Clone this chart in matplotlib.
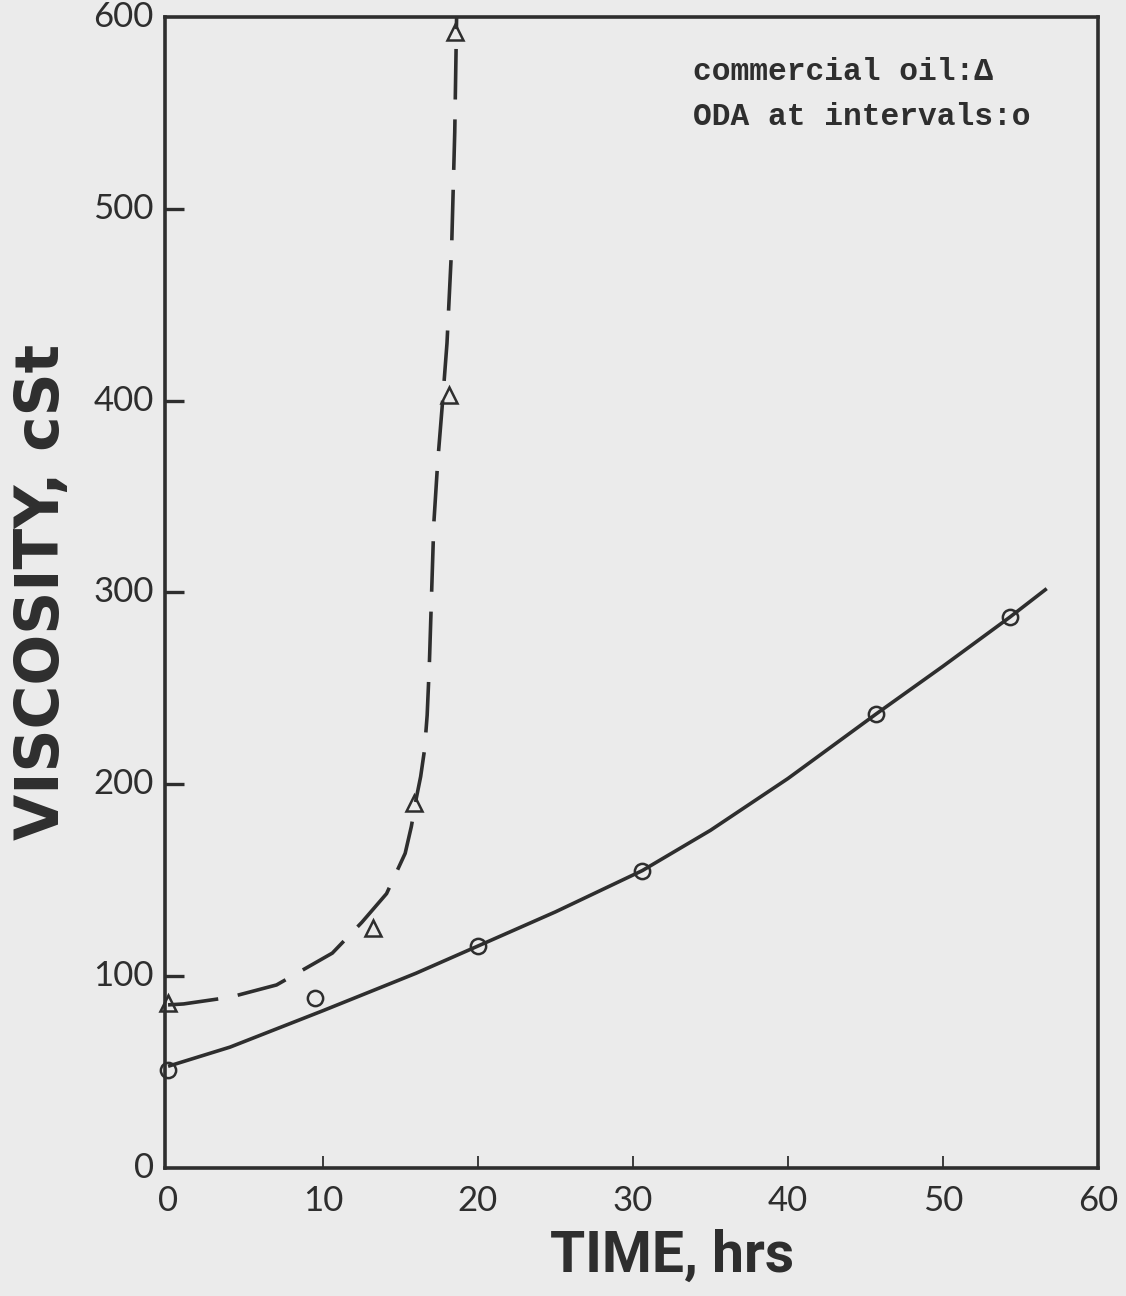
import matplotlib
matplotlib.use("Agg")
import matplotlib.pyplot as plt

# ODA dosed at intervals (circles) and the fitted solid curve
oda_t = [0, 9.5, 20.0, 30.6, 45.7, 54.3]
oda_visc = [51, 88.5, 115.7, 155, 236.7, 287]
oda_fit_t = [0, 4, 10, 16, 20, 25, 30.6, 35, 40, 45.7, 50, 54.3, 56.7]
oda_fit_visc = [53, 63, 82, 101.5, 115.7, 133.5, 155, 176, 203, 236.7, 261.5, 287, 302]

# commercial oil (triangles) and the dashed trend curve
com_t = [0, 13.2, 15.9, 18.1, 18.5]
com_visc = [86, 125, 190, 403, 592]
com_fit_t = [0, 1, 4, 7, 10.6, 12.5, 14.1, 15.3, 15.7, 16.0, 16.3, 16.55, 16.72,
             16.86, 17.0, 17.15, 17.4, 17.7, 18.0, 18.3, 18.5, 18.62]
com_fit_visc = [85, 85.5, 89, 95.4, 112, 128, 143, 164, 178, 192, 204, 218, 236,
                262, 298, 336, 368, 398, 430, 480, 540, 600]

xticks = [10, 20, 30, 40, 50]
xlabels_all = ["0", "10", "20", "30", "40", "50", "60"]
yticks = [0, 100, 200, 300, 400, 500, 600]

ink = "#2e2e2e"
paper = "#ebebeb"

fig = plt.figure(figsize=(11.26, 12.96), dpi=100, facecolor=paper)
ax = fig.add_axes([0.1465, 0.0988, 0.8285, 0.8881])
ax.set_facecolor(paper)

ax.plot(oda_fit_t, oda_fit_visc, color=ink, lw=2.6, solid_capstyle="butt", clip_on=False)
ax.plot(com_fit_t, com_fit_visc, color=ink, lw=2.6, dashes=(14, 5.5), clip_on=False)

ax.plot(oda_t, oda_visc, "o", ms=11, mfc="none", mec=ink, mew=1.8, clip_on=False, zorder=5)
ax.plot(com_t, com_visc, "^", ms=11, mfc="none", mec=ink, mew=1.8, clip_on=False, zorder=5)

ax.set_xlim(-0.2, 60)
ax.set_ylim(0, 600)

for s in ax.spines.values():
    s.set_linewidth(2.6)
    s.set_color(ink)

ax.set_xticks(xticks)
ax.set_xticklabels([])
ax.set_yticks([100, 200, 300, 400, 500])
ax.set_yticklabels([])
ax.tick_params(axis="x", direction="in", length=9, width=1.3, color=ink)
ax.tick_params(axis="y", direction="in", length=14, width=2.4, color=ink)

# hand-placed tick labels so the 0 and 600 corners get labels too
tick_font = dict(family="Lato", size=25, color=ink)
for i, lab in enumerate(xlabels_all):
    ax.annotate(lab, xy=(i * 10, 0), xycoords="data", xytext=(0, -12),
                textcoords="offset points", ha="center", va="top", **tick_font)
for v in yticks:
    ax.annotate(str(v), xy=(-0.2, v), xycoords="data", xytext=(-8, 0),
                textcoords="offset points", ha="right", va="center", **tick_font)

fig.text(43 / 1126, 1 - 592 / 1296, "VISCOSITY, cSt", rotation=90, ha="center", va="center",
         family="DejaVu Sans", weight="bold", size=43, color=ink)
fig.text(672 / 1126, 1 - 1256 / 1296, "TIME, hrs", ha="center", va="center",
         family="Roboto", weight="semibold", size=41, color=ink)

leg_font = dict(family="Liberation Mono", weight="bold", size=22.5, color=ink)
ax.text(0.566, 0.945, "commercial oil:\u0394", transform=ax.transAxes, ha="left", va="baseline", **leg_font)
ax.text(0.566, 0.906, "ODA at intervals:o", transform=ax.transAxes, ha="left", va="baseline", **leg_font)

fig.savefig("out.png", dpi=100, facecolor=paper)
